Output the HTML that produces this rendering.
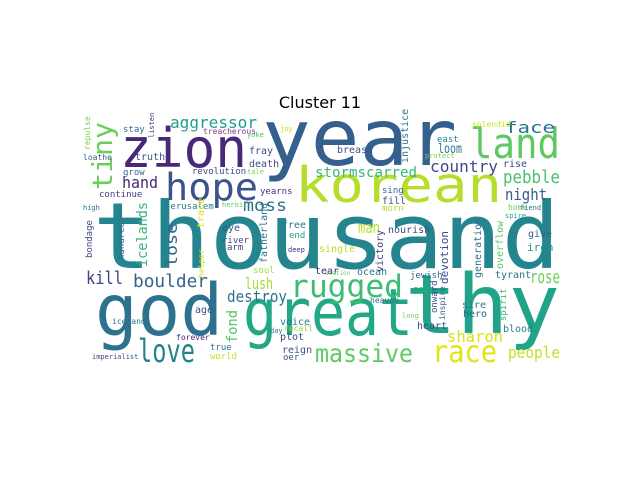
<!DOCTYPE html>
<html><head><meta charset="utf-8"><style>
html,body{margin:0;padding:0;background:#fff;width:640px;height:480px;overflow:hidden}
svg text{font-family:"DejaVu Sans Mono","Liberation Mono",monospace}
</style></head><body>
<svg id="wc" width="640" height="480" viewBox="0 0 640 480" xmlns="http://www.w3.org/2000/svg">
<text x="320" y="108" text-anchor="middle" style="font-family:'DejaVu Sans','Liberation Sans',sans-serif" font-size="16" fill="#000">Cluster 11</text>
<g id="words"></g>
</svg>
<script>
// word cloud data: word, frequency-driven font size, color
const words = ["thousand","year","zion","korean","land","hope","god","great","thy","rugged","love","massive","race","people","sharon","boulder","lush","destroy","kill","aggressor","stormscarred","country","loom","pebble","night","face","moss","hand","man","rose","tiny","icelands","lose","fond"];
const sizes = [92,78,54,49,42,37,71,65,82,31,32,25,30,16,16,18,16,16,18,16,14,16,13,18,16,16,17,16,16,18,28,14,16,14];
const colors = ["#25858e","#355f8d","#482878","#b5de2b","#5ec962","#3b528b","#2c728e","#22a884","#20a386","#3fbc73","#26828e","#5ec962","#e2e418","#c2df23","#d8e219","#33638d","#a5db36","#2c728e","#414487","#1f9e89","#35b779","#3e4989","#2a788e","#4ac16d","#38598c","#2c728e","#2d708e","#481f70","#bddf26","#6ece58","#6ccd5a","#35b779","#31688e","#54c568"];
const placeX = [93,262,120,295,470,165,95,243,405,290,138,315,432,508,447,133,245,227,86,170,315,430,438,503,505,505,243,122,358,530,112,147,177,237];
const placeY = [268,165,167,202,158,200,335,335,333,297,362,362,362,358,342,287,289,302,284,128,177,172,153,183,200,133,211,188,233,283,190,267,267,343];
const spans = [467,195,127,207,90,93,128,170,155,113,57,98,65,52,56,75,28,60,37,87,102,68,24,57,42,50,44,36,22,30,68,65,44,33];
const vertical = [0,0,0,0,0,0,0,0,0,0,0,0,0,0,0,0,0,0,0,0,0,0,0,0,0,0,0,0,0,0,1,1,1,1];

const small = ["stay","truth","grow","continue","jerusalem","revolution","tale","treacherous","yoke","joy","fray","death","yearns","heroic","loathe","high","eye","free","end","river","arm","single","deep","soul","tear","station","ocean","age","voice","plot","true","world","reign","oer","recall","day","forever","iceland","imperialist","breast","east","splendid","protect","rise","sing","fill","morn","nourish","home","fiend","spire","give","iron","tyrant","jewish","gaze","heaven","sire","hero","heart","blood","long"];
const smallX = [123,135,123,99,165,192,247,203,247,280,249,249,260,222,83,83,222,282,289,222,227,319,288,253,315,325,357,195,280,280,210,210,282,283,284,270,176,112,92,337,437,472,425,503,382,382,382,388,508,520,505,528,527,495,410,413,370,462,463,417,503,402];
const smallY = [132,160,175,197,209,174,174,134,137,131,154,167,194,207,160,210,231,228,238,243,250,252,252,273,274,275,275,313,325,340,350,359,353,360,331,333,340,324,359,153,142,127,158,167,193,204,211,233,210,210,218,237,251,278,278,292,303,308,317,329,332,318];
const smallSize = [9,10,9,9,9,9,7,8,7,7,10,10,9,7,8,7,10,10,9,9,9,10,7,9,10,6,10,10,10,10,9,9,10,9,8,7,8,8,7,10,9,8,7,10,9,10,9,10,8,7,7,10,11,10,9,9,8,10,10,10,10,7];
const smallColors = ["#31688e","#3b528b","#31688e","#443983","#2a788e","#3e4989","#7ad151","#7e3c8a","#4ac16d","#bddf26","#3e4989","#3e4989","#463480","#5ec962","#35608d","#2c728e","#3b528b","#2a788e","#1f9e89","#3e4989","#433e85","#bddf26","#482878","#a0da39","#482878","#6ece58","#2a788e","#3b528b","#2a788e","#3e4989","#2a788e","#c2df23","#3b528b","#3b528b","#8fd744","#2a788e","#482878","#2c728e","#404688","#3b528b","#26828e","#d0e11c","#7ad151","#3e4989","#33638d","#3b528b","#b5de2b","#3e4989","#63cb5f","#2c728e","#22a884","#35608d","#21918c","#2c728e","#31688e","#25ab82","#2c728e","#2a788e","#31688e","#3e4989","#26828e","#6ece58"];

const vsmall = ["injustice","victory","devotion","generation","overflow","fatherland","hundred","bondage","trace","onward","spirit","repulse","listen","helper","inspire"];
const vX = [408,383,448,481,503,267,124,92,204,437,506,90,154,204,445];
const vY = [163,272,284,278,269,263,260,258,228,313,321,150,138,278,320];
const vSize = [10,10,11,10,10,10,9,9,10,9,9,8,7,8,8];
const vColors = ["#2a788e","#443983","#3e4989","#2c728e","#5ec962","#2a788e","#2c728e","#404688","#d8e219","#3e4989","#35b779","#7ad151","#46327e","#d0e11c","#33638d"];

const g = document.getElementById('words');
const NS = "http://www.w3.org/2000/svg";
function mk(txt, x, y, sz, col, vert, span){
  const t = document.createElementNS(NS,'text');
  t.setAttribute('x', x); t.setAttribute('y', y);
  t.setAttribute('font-size', sz); t.setAttribute('fill', col);
  if (span){ t.setAttribute('textLength', span); t.setAttribute('lengthAdjust','spacingAndGlyphs'); }
  if (vert) t.setAttribute('transform','rotate(-90 '+x+' '+y+')');
  t.textContent = txt;
  
  
  g.appendChild(t);
}
for (let i=0;i<words.length;i++){
  if (vertical[i]) mk(words[i], placeX[i], placeY[i], sizes[i], colors[i], 1, spans[i]);
  else mk(words[i], placeX[i], placeY[i], sizes[i], colors[i], 0, spans[i]);
}
for (let i=0;i<small.length;i++) mk(small[i], smallX[i], smallY[i], smallSize[i], smallColors[i], 0, 0);
for (let i=0;i<vsmall.length;i++) mk(vsmall[i], vX[i], vY[i], vSize[i], vColors[i], 1, 0);
</script>
</body></html>
